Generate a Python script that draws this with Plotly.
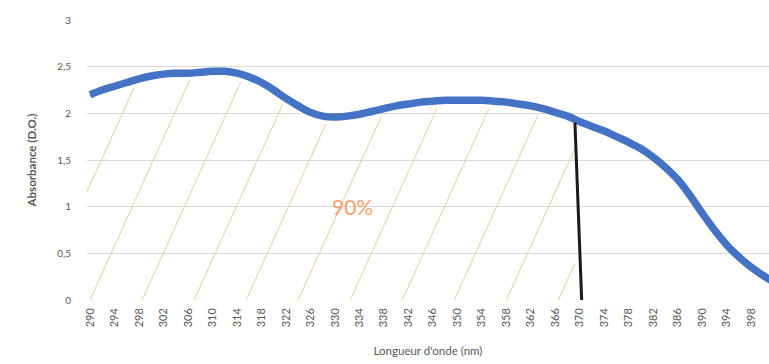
import numpy as np
import plotly.graph_objects as go

# ---- data ----
wavelength_nm = list(range(290, 404, 2))
absorbance = [2.20, 2.25, 2.29, 2.33, 2.37, 2.40, 2.42, 2.43, 2.43, 2.44,
              2.45, 2.45, 2.43, 2.39, 2.33, 2.25, 2.16, 2.08, 2.01, 1.97,
              1.96, 1.97, 1.99, 2.02, 2.05, 2.08, 2.10, 2.12, 2.13, 2.14,
              2.14, 2.14, 2.14, 2.13, 2.12, 2.10, 2.08, 2.05, 2.01, 1.97,
              1.91, 1.86, 1.81, 1.75, 1.69, 1.62, 1.53, 1.42, 1.29, 1.12,
              0.93, 0.75, 0.59, 0.46, 0.35, 0.26, 0.18]

cutoff_x = [369.2, 370.3]
cutoff_y = [1.90, 0.0]

x_tick_vals = list(range(290, 402, 4))
x_tick_text = [str(v) for v in x_tick_vals]
y_tick_vals = [0, 0.5, 1, 1.5, 2, 2.5, 3]
y_tick_text = ["0", "0,5", "1", "1,5", "2", "2,5", "3"]

hatch_start_nm = [281.5, 290, 298.5, 307, 315.5, 324, 332.5, 341, 349.5, 358, 366.5]
label_text = "90%"
label_x = 332.8
label_y = 1.0

x_title = "Longueur d'onde (nm)"
y_title = "Absorbance (D.O.)"

# ---- figure ----
X_MIN, X_MAX = 289.5, 400.9
HATCH_SLOPE = 6.9   # nm per absorbance unit
HATCH_GAP = 0.08

fig = go.Figure()

wl = np.array(wavelength_nm, float)
ab = np.array(absorbance, float)
hx, hy = [], []
for x0 in hatch_start_nm:
    if x0 < X_MIN:
        ys = (X_MIN - x0) / HATCH_SLOPE
        xs = X_MIN
    else:
        ys, xs = 0.0, x0
    ts = np.linspace(ys, 3, 900)
    xe, ye = xs, ys
    for t in ts:
        xx = x0 + t * HATCH_SLOPE
        if xx > cutoff_x[0] or t > np.interp(xx, wl, ab) - HATCH_GAP:
            break
        xe, ye = xx, t
    if ye > ys:
        hx += [xs, xe, None]
        hy += [ys, ye, None]

fig.add_trace(go.Scatter(x=hx, y=hy, mode="lines",
                         line=dict(color="#ECCB98", width=1),
                         hoverinfo="skip", showlegend=False))

fig.add_trace(go.Scatter(x=wavelength_nm, y=absorbance, mode="lines",
                         line=dict(color="#4472C4", width=7.5, shape="spline"),
                         showlegend=False))

fig.add_trace(go.Scatter(x=cutoff_x, y=cutoff_y, mode="lines",
                         line=dict(color="#1a1a1a", width=3),
                         showlegend=False))

fig.add_annotation(x=label_x, y=label_y, text=label_text, showarrow=False,
                   font=dict(family="Lato", size=21, color="#F0A068"))

fig.update_layout(
    width=769, height=364,
    margin=dict(l=87, r=0, t=20, b=64),
    plot_bgcolor="white", paper_bgcolor="white",
    font=dict(family="Lato", size=10, color="#595959"),
    xaxis=dict(range=[X_MIN, X_MAX], tickmode="array", tickvals=x_tick_vals,
               ticktext=x_tick_text, tickangle=-90, showgrid=False,
               zeroline=False, showline=False, ticks="",
               ticklabelstandoff=5, tickfont=dict(size=11),
               title=dict(text=x_title, font=dict(family="Lato", size=11.5, color="#595959"),
                          standoff=20)),
    yaxis=dict(range=[0, 3], tickmode="array", tickvals=y_tick_vals,
               ticktext=y_tick_text, showgrid=True, gridcolor="#D9D9D9",
               gridwidth=1, zeroline=False, showline=False, ticks="",
               ticklabelstandoff=15, tickfont=dict(size=10),
               title=dict(text="<b>" + y_title + "</b>",
                          font=dict(family="Lato", size=11.5, color="#595959"),
                          standoff=18)),
)

fig.write_html("out.html")
